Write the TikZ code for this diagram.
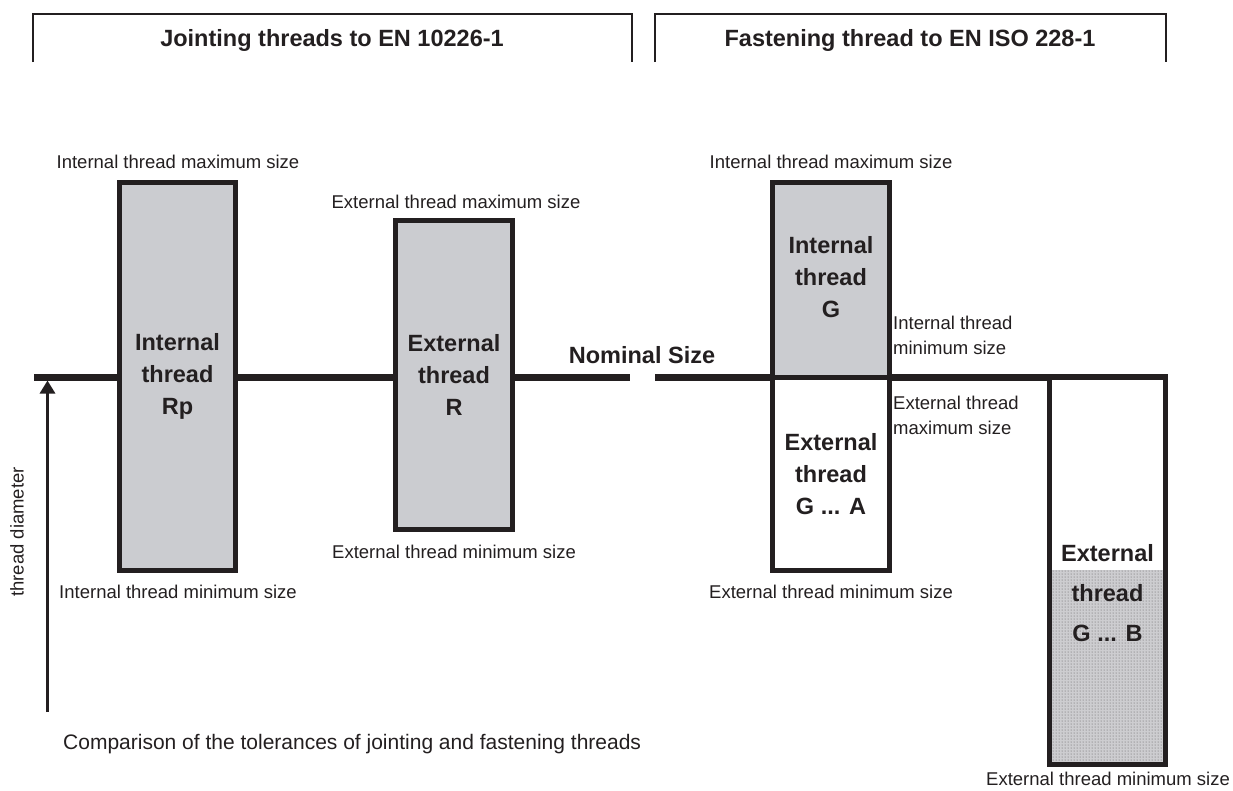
\documentclass[tikz,border=0pt]{standalone}
\usepackage{fontspec}
\setmainfont{Liberation Sans}
\usetikzlibrary{arrows.meta,patterns}
\definecolor{ink}{HTML}{231F20}
\definecolor{boxgray}{HTML}{CBCCD0}
\definecolor{dotbase}{HTML}{CDCDD0}
\begin{document}
\begin{tikzpicture}[x=1pt,y=-1pt,
  lbl/.style={font=\fontsize{18.5}{22}\selectfont, text=ink, inner sep=0pt},
  side/.style={lbl, align=left, anchor=west, font=\fontsize{18.5}{25}\selectfont},
  title/.style={font=\bfseries\fontsize{23.5}{28}\selectfont, text=ink, inner sep=0pt},
  boxtxt/.style={font=\bfseries\fontsize{23.5}{32}\selectfont, align=center, text=ink, inner sep=0pt},
  tolbox/.style={draw=ink, line width=5pt, rectangle, inner sep=0pt, outer sep=0pt,
    font=\bfseries\fontsize{23.5}{32}\selectfont, align=center, text=ink},
  bracket/.style={draw=ink, line width=2pt},
  nominal/.style={draw=ink, line width=7pt},
]
\useasboundingbox (0,0) rectangle (1233,790);

% headings with their brackets
\draw[bracket] (33,62) -- (33,14) -- (632,14) -- (632,62);
\draw[bracket] (655,62) -- (655,14) -- (1166,14) -- (1166,62);
\node[title] (tjoint) at (332,40) {Jointing threads to EN 10226-1};
\node[title] (tfasten) at (910,40) {Fastening thread to EN ISO 228-1};

% nominal size line (broken)
\coordinate (n1) at (34,377);
\coordinate (n2) at (630,377);
\coordinate (n3) at (655,377);
\coordinate (n4) at (1168,377);
\draw[nominal] (n1) -- (n2);
\draw[nominal] (n3) -- (n4);
\node[title] (nom) at (642,355) {Nominal Size};

% thread diameter axis
\coordinate (afoot) at (47.5,712);
\coordinate (atip) at (47.5,380.5);
\draw[draw=ink, line width=3pt, -{Triangle[length=13pt,width=15pt]}] (afoot) -- (atip);
\node[lbl, rotate=90] (tdia) at (17,532) {thread diameter};

% jointing threads tolerance zones
\node[tolbox, fill=boxgray, minimum width=116pt, minimum height=388pt] (rp) at (177.5,376.5)
  {Internal\\thread\\Rp};
\node[tolbox, fill=boxgray, minimum width=117pt, minimum height=309pt] (r) at (454,375)
  {External\\thread\\R};

% fastening thread tolerance zones
\node[tolbox, fill=boxgray, minimum width=117pt, minimum height=194.5pt] (gi) at (831,279.75)
  {};
\node[boxtxt] (gitxt) at (831,277) {Internal\\thread\\G};
\node[tolbox, fill=white, minimum width=117pt, minimum height=193.5pt] (ga) at (831,473.75)
  {External\\thread\\G ... A};

% G ... B zone, lower part dotted
\fill[white] (1049.5,377) rectangle (1165.5,570);
\fill[dotbase] (1049.5,570) rectangle (1165.5,764.5);
\fill[pattern=dots, pattern color=ink!75] (1049.5,570) rectangle (1165.5,764.5);
\draw[draw=ink, line width=5pt] (1049.5,377) rectangle (1165.5,764.5);
\node[boxtxt, font=\bfseries\fontsize{23.5}{40}\selectfont] (gb) at (1107.5,593)
  {External\\thread\\G ... B};

% size labels
\node[lbl] (l1) at (178,162) {Internal thread maximum size};
\node[lbl] (l2) at (456,202) {External thread maximum size};
\node[lbl] (l3) at (178,592) {Internal thread minimum size};
\node[lbl] (l4) at (454,552) {External thread minimum size};
\node[lbl] (l5) at (831,162) {Internal thread maximum size};
\node[lbl] (l6) at (831,592) {External thread minimum size};
\node[lbl] (l7) at (1108,779) {External thread minimum size};
\node[side] (l8) at (893,335) {Internal thread\\minimum size};
\node[side] (l9) at (893,415) {External thread\\maximum size};

% caption
\node[lbl, anchor=west, font=\fontsize{21}{24}\selectfont] (cap) at (63,744)
  {Comparison of the tolerances of jointing and fastening threads};
\end{tikzpicture}
\end{document}
